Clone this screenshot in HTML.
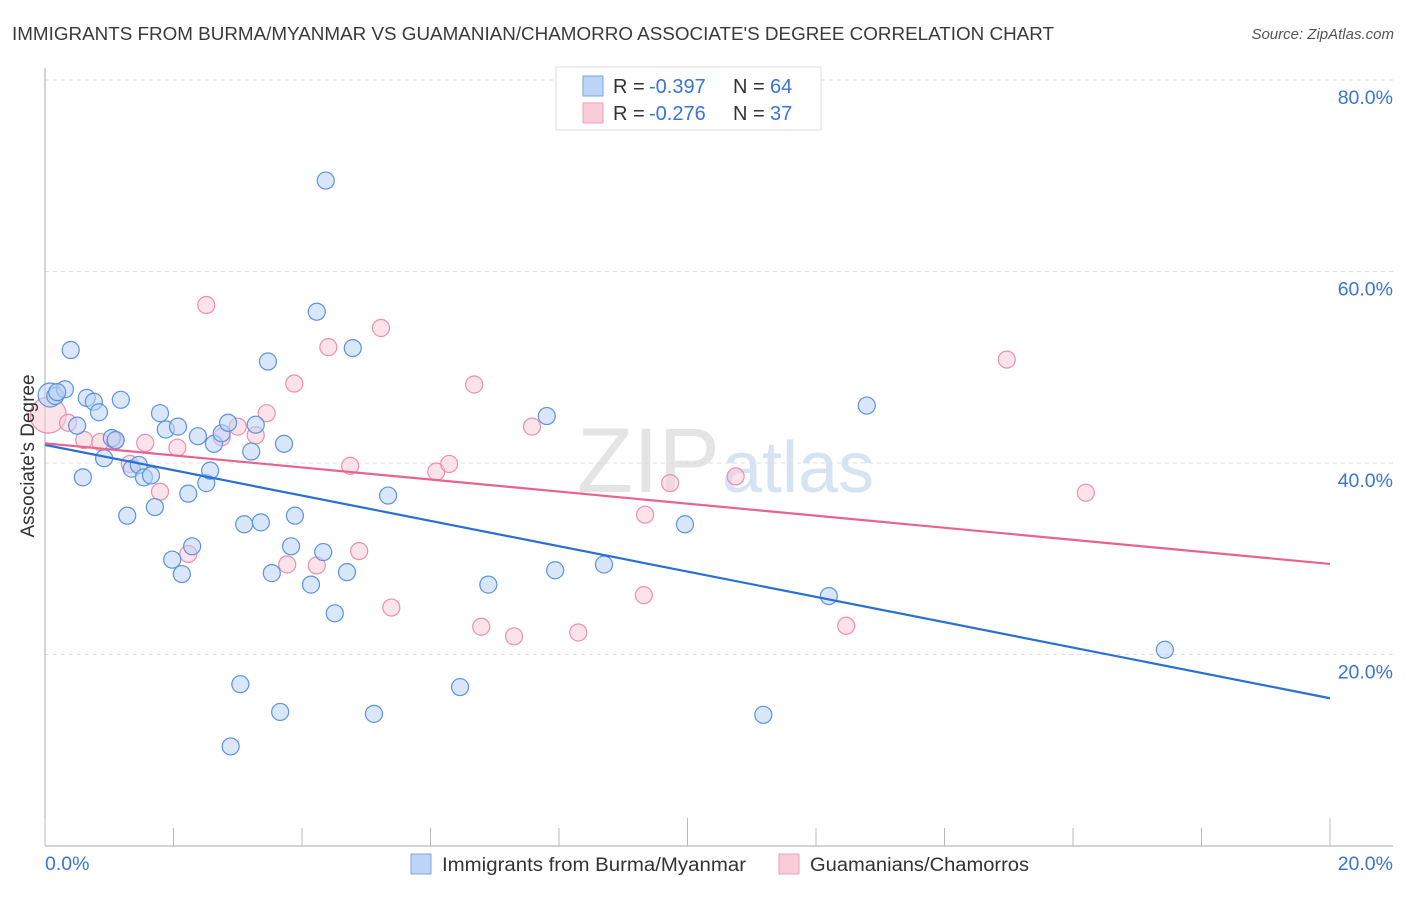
<!DOCTYPE html>
<html><head><meta charset="utf-8"><style>
body{margin:0;background:#fff;font-family:"Liberation Sans",sans-serif}
svg text{font-family:"Liberation Sans",sans-serif}
</style></head><body>
<svg width="1406" height="892" xmlns="http://www.w3.org/2000/svg">
<text x="12" y="40" font-size="18" fill="#3a3a3a" textLength="1042" lengthAdjust="spacingAndGlyphs">IMMIGRANTS FROM BURMA/MYANMAR VS GUAMANIAN/CHAMORRO ASSOCIATE'S DEGREE CORRELATION CHART</text>
<text x="1394" y="39" font-size="15" fill="#555" font-style="italic" text-anchor="end">Source: ZipAtlas.com</text>
<text x="720" y="492" font-size="92" fill="#e4e4e4" text-anchor="end" font-family="Liberation Serif">ZIP</text>
<text x="722" y="492" font-size="72" fill="#d5e3f3">atlas</text>
<g id="grid"></g>
<g id="axes"></g>
<g id="pts"></g>
<g id="lines"></g>
<text transform="translate(34,456) rotate(-90)" font-size="19" fill="#333" text-anchor="middle">Associate's Degree</text>
<g>
<rect x="556" y="67" width="265" height="63" fill="#fff" stroke="#ddd"/>
<rect x="583" y="76" width="20" height="20" fill="#bcd4f5" stroke="#7aa6e6"/>
<rect x="583" y="103" width="20" height="20" fill="#f9ccd9" stroke="#eea0b8"/>
<text x="613" y="93" font-size="20" fill="#333">R =</text>
<text x="649" y="93" font-size="20" fill="#3a74d6">-0.397</text>
<text x="733" y="93" font-size="20" fill="#333">N =</text>
<text x="770" y="93" font-size="20" fill="#3a74d6">64</text>
<text x="613" y="120" font-size="20" fill="#333">R =</text>
<text x="649" y="120" font-size="20" fill="#3a74d6">-0.276</text>
<text x="733" y="120" font-size="20" fill="#333">N =</text>
<text x="770" y="120" font-size="20" fill="#3a74d6">37</text>
</g>
<g>
<rect x="411" y="854" width="20" height="20" fill="#bcd4f5" stroke="#7aa6e6"/>
<text x="442" y="871" font-size="19" fill="#333" textLength="304" lengthAdjust="spacingAndGlyphs">Immigrants from Burma/Myanmar</text>
<rect x="779" y="854" width="20" height="20" fill="#f9ccd9" stroke="#eea0b8"/>
<text x="810" y="871" font-size="19" fill="#333" textLength="219" lengthAdjust="spacingAndGlyphs">Guamanians/Chamorros</text>
</g>
</svg>
<script>
const blueX=[0.08,0.16,0.31,0.40,0.50,0.59,0.65,0.76,0.84,0.92,1.04,1.10,1.18,1.28,1.35,1.46,1.54,1.65,1.71,1.79,1.88,1.98,2.07,2.13,2.23,2.29,2.38,2.51,2.57,2.63,2.75,2.85,2.89,3.04,3.10,3.21,3.28,3.36,3.47,3.53,3.66,3.72,3.83,3.89,4.14,4.23,4.33,4.37,4.51,4.70,4.79,5.12,5.34,6.46,6.90,7.81,7.94,8.70,9.96,11.18,12.20,12.79,17.43,0.19];
const blueY=[47.1,47.0,47.7,51.8,43.9,38.5,46.8,46.4,45.3,40.5,42.6,42.4,46.6,34.5,39.4,39.8,38.5,38.7,35.4,45.2,43.5,29.9,43.8,28.4,36.8,31.3,42.8,37.9,39.2,42.0,43.1,44.2,10.4,16.9,33.6,41.2,44.0,33.8,50.6,28.5,14.0,42.0,31.3,34.5,27.3,55.8,30.7,69.5,24.3,28.6,52.0,13.8,36.6,16.6,27.3,44.9,28.8,29.4,33.6,13.7,26.1,46.0,20.5,47.4];
const pinkX=[0.05,0.36,0.61,0.86,1.09,1.32,1.56,1.79,2.06,2.23,2.51,2.75,3.00,3.28,3.45,3.77,3.88,4.23,4.41,4.75,4.89,5.23,5.39,6.09,6.29,6.68,6.79,7.30,7.58,8.30,9.34,9.32,9.73,10.75,12.47,14.97,16.20];
const pinkY=[45.0,44.2,42.4,42.2,42.3,39.9,42.1,37.0,41.6,30.5,56.5,42.7,43.8,42.9,45.2,29.4,48.3,29.3,52.1,39.7,30.8,54.1,24.9,39.1,39.9,48.2,22.9,21.9,43.8,22.3,34.6,26.2,37.9,38.6,23.0,50.8,36.9];
const S='http://www.w3.org/2000/svg';
const X0=45,X1=1330,Y0=846,PY=191.5/20;
const sx=v=>X0+(v/20)*(X1-X0), sy=v=>Y0-v*PY;
function mk(t,a,p){const e=document.createElementNS(S,t);for(const k in a)e.setAttribute(k,a[k]);document.getElementById(p).appendChild(e);return e;}
const yTicks=[20,40,60,80];
yTicks.forEach(v=>{
 const l=mk('line',{x1:45,x2:1393,y1:sy(v),y2:sy(v),stroke:'#ddd','stroke-dasharray':'4,4'},'grid');
 
 
 const t=mk('text',{x:1393,y:sy(v)+24,'font-size':19.5,fill:'#3a74d6','text-anchor':'end'},'grid');
 t.textContent=v.toFixed(1)+'%';
 
 
});
mk('line',{x1:45,x2:45,y1:68,y2:846,stroke:'#aaa'},'axes');
mk('line',{x1:45,x2:1393,y1:846,y2:846,stroke:'#aaa'},'axes');
for(let i=0;i<=10;i++){const x=sx(i*2);const tk=mk('line',{x1:x,x2:x,y1:(i%5==0?818:828),y2:846,stroke:'#bbb'},'axes');}
const xl=['0.0%','20.0%'];
[[45,'start',xl[0]],[1393,'end',xl[1]]].forEach(a=>{const t=mk('text',{x:a[0],y:870,'font-size':19.5,fill:'#3a74d6','text-anchor':a[1]},'axes');t.textContent=a[2];});
function dots(xs,ys,f,s,name,big){xs.forEach((x,i)=>{const c=mk('circle',{cx:sx(x),cy:sy(ys[i]),r:(big&&i===0)?big:8.5,fill:f,'fill-opacity':0.55,stroke:s,'stroke-width':1.2},'pts');

});}
dots(pinkX,pinkY,'#f9ccd9','#eb8fae','pink-point',18);
dots(blueX,blueY,'#bcd4f5','#5b93e0','blue-point',12);
function fit(xs,ys){const n=xs.length,mx=xs.reduce((a,b)=>a+b)/n,my=ys.reduce((a,b)=>a+b)/n;let sxy=0,sxx=0;xs.forEach((x,i)=>{sxy+=(x-mx)*(ys[i]-my);sxx+=(x-mx)**2});const b=sxy/sxx;return [my-b*mx,b];}
function tl(xs,ys,col,name){const [a,b]=fit(xs,ys);const l=mk('line',{x1:sx(0),y1:sy(a),x2:sx(20),y2:sy(a+20*b),stroke:col,'stroke-width':2.2},'lines');

}
tl(blueX,blueY,'#2a6fd6','blue-trend-line');
tl(pinkX,pinkY,'#e8648e','pink-trend-line');
</script>
</body></html>
